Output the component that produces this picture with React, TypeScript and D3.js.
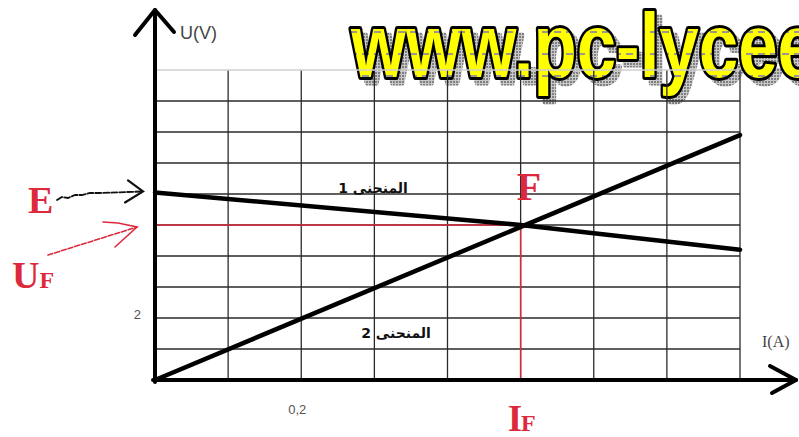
import React, { useEffect } from 'react';
import * as d3 from 'd3';

// values (I in A, U in V)
const curve1I = [0, 0.5, 0.8];
const curve1U = [6.05, 5, 4.2];
const curve2I = [0, 0.8];
const curve2U = [0, 7.9];
const pointF = { I: 0.5, U: 5 };
const gridI = [0.1, 0.2, 0.3, 0.4, 0.5, 0.6, 0.7, 0.8];
const gridU = [1, 2, 3, 4, 5, 6, 7, 8, 9, 10];
const xTickValues = [0.2];
const xTickLabels = ['0,2'];
const yTickValues = [2];
const yTickLabels = ['2'];

const W = 799;
const H = 437;
const RED = '#dc2a3c';

const App = () => {
  useEffect(() => {
    document.body.style.margin = '0';
  }, []);

  const x = d3.scaleLinear().domain([0, 0.8]).range([155, 740]);
  const y = d3.scaleLinear().domain([0, 10]).range([380, 70]);

  const line = d3.line<[number, number]>()
    .x(d => x(d[0]))
    .y(d => y(d[1]));

  const c1 = line(curve1I.map((v, i) => [v, curve1U[i]] as [number, number])) || '';
  const c2 = line(curve2I.map((v, i) => [v, curve2U[i]] as [number, number])) || '';

  const x0 = x(0);
  const y0 = y(0);
  const xE = x0 - 12;
  const yE = y(curve1U[0]);

  return (
    <svg width={W} height={H} style={{ display: 'block', background: '#fff' }}>
      <defs>
        <pattern id="dash" width="12" height="22" patternUnits="userSpaceOnUse">
          <rect width="12" height="22" fill="#ffff00" />
          <rect x="2" y="9" width="7" height="2" fill="#9a9a88" />
        </pattern>
        <pattern id="dots" width="3" height="3" patternUnits="userSpaceOnUse">
          <rect width="3" height="3" fill="#c8c8c8" />
          <rect width="2" height="2" fill="#808080" />
        </pattern>
      </defs>

      {/* watermark */}
      <g fontFamily="'Liberation Sans', Arial, sans-serif" fontWeight="bold" fontSize="90">
        <text x={357} y={83} textLength={466} lengthAdjust="spacingAndGlyphs"
          fill="url(#dots)" stroke="url(#dots)" strokeWidth={5} strokeLinejoin="round">
          www.pc-lycee
        </text>
        <text x={351} y={77} textLength={466} lengthAdjust="spacingAndGlyphs"
          fill="url(#dash)" stroke="#000" strokeWidth={6} strokeLinejoin="round"
          style={{ paintOrder: 'stroke' }}>
          www.pc-lycee
        </text>
      </g>

      {/* grid */}
      <g stroke="#2a2a2a" strokeWidth={1.3}>
        {gridI.map(v => (
          <line key={'gi' + v} x1={x(v)} x2={x(v)} y1={y(10)} y2={y0} />
        ))}
        {gridU.map(v => (
          <line key={'gu' + v} x1={x0} x2={x(0.8)} y1={y(v)} y2={y(v)}
            stroke={v === 10 ? '#cfcfcf' : '#2a2a2a'} />
        ))}
      </g>

      {/* red construction lines */}
      <g stroke={RED} strokeWidth={1.5}>
        <line x1={x0} x2={x(pointF.I)} y1={y(pointF.U)} y2={y(pointF.U)} />
        <line x1={x(pointF.I)} x2={x(pointF.I)} y1={y(pointF.U)} y2={y0} />
      </g>

      {/* curves */}
      <g fill="none" stroke="#000" strokeWidth={4.5} strokeLinecap="round">
        <path d={c1} />
        <path d={c2} />
      </g>

      {/* axes */}
      <g fill="none" stroke="#000" strokeWidth={4} strokeLinecap="round" strokeLinejoin="round">
        <line x1={x0} x2={x0} y1={y0 + 2} y2={10} />
        <polyline points={`${x0 - 20},35 ${x0},10 ${x0 + 19},32`} />
        <line x1={x0 - 2} x2={W - 3} y1={y0} y2={y0} />
        <polyline points={`${W - 29},366 ${W - 3},${y0} ${W - 27},393`} />
      </g>

      {/* axis titles and ticks */}
      <text x={180} y={39} fontFamily="'Liberation Sans', Arial, sans-serif" fontSize={18} fill="#444">U(V)</text>
      <text x={762} y={347} fontFamily="'Liberation Serif', serif" fontSize={16} fill="#444">I(A)</text>
      {yTickValues.map((v, i) => (
        <text key={'yt' + v} x={x0 - 14} y={y(v) + 1} textAnchor="end"
          fontFamily="'Liberation Sans', Arial, sans-serif" fontSize={13} fill="#555">{yTickLabels[i]}</text>
      ))}
      {xTickValues.map((v, i) => (
        <text key={'xt' + v} x={x(v) - 4} y={y0 + 34} textAnchor="middle"
          fontFamily="'Liberation Sans', Arial, sans-serif" fontSize={13} fill="#555">{xTickLabels[i]}</text>
      ))}

      {/* curve names */}
      <g fontFamily="'DejaVu Sans', sans-serif" fontWeight="bold" fontSize={14} fill="#111">
        <text x={373} y={193} textAnchor="middle" direction="rtl">المنحنى 1</text>
        <text x={396} y={338} textAnchor="middle" direction="rtl">المنحنى 2</text>
      </g>

      {/* red labels */}
      <g fontFamily="'Liberation Serif', 'Times New Roman', serif" fontWeight="bold" fill={RED}>
        <text x={x(pointF.I) - 4} y={200} fontSize={40}>F</text>
        <text x={28} y={213} fontSize={38}>E</text>
        <text x={12} y={288} fontSize={38}>U<tspan fontSize={24}>F</tspan></text>
        <text x={x(pointF.I) - 13} y={431} fontSize={37}>I<tspan fontSize={24} dx={-1}>F</tspan></text>
      </g>

      {/* E arrow */}
      <g fill="none" stroke="#111" strokeWidth={1.8} strokeLinecap="round">
        <path d={`M57,200 L62,197 L68,198 L75,195 L82,195 L90,193 L100,193 L${xE},${yE - 1}`}
          strokeDasharray="6 2" />
        <polyline points={`${xE - 15},${yE - 12} ${xE},${yE - 1} ${xE - 18},${yE + 10}`} strokeWidth={2.2} />
      </g>

      {/* UF arrow */}
      <g fill="none" stroke={RED} strokeWidth={1.6} strokeLinecap="round">
        <path d={`M48,255 L${x0 - 18},${y(pointF.U) + 2}`} strokeDasharray="5 2" />
        <polyline points={`103,222 118,223 ${x0 - 18},${y(pointF.U) + 2} 115,247`} />
      </g>
    </svg>
  );
};

export default App;
